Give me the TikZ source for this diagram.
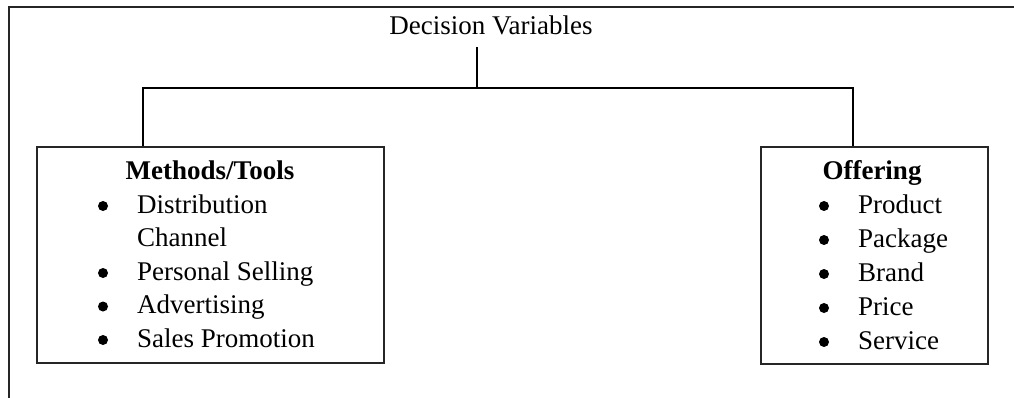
\documentclass[tikz,border=0pt]{standalone}
\usepackage{fontspec}
\setmainfont{Liberation Serif}
\begin{document}
\begin{tikzpicture}[x=1pt,y=-1pt,
  frame/.style={draw=black!85, line width=1.5pt},
  conn/.style={draw=black, line width=1.2pt},
  box/.style={draw=black!85, line width=1.6pt, rectangle, inner sep=0pt, anchor=north west},
  txt/.style={anchor=base west, inner sep=0pt, font=\fontsize{27}{32}\selectfont},
  head/.style={anchor=base, inner sep=0pt, font=\fontsize{27}{32}\selectfont\bfseries},
  bul/.style={circle, fill=black, inner sep=0pt, minimum size=10pt}]
\useasboundingbox (0,0) rectangle (1014,398);
% outer frame
\coordinate (f1) at (1014,7);
\coordinate (f2) at (9,7);
\coordinate (f3) at (9,398);
\draw[frame] (f1) -- (f2) -- (f3);
% title
\node[anchor=base, inner sep=0pt, font=\fontsize{27}{32}\selectfont] (title) at (491,35) {Decision Variables};
% boxes
\node[box, minimum width=347pt, minimum height=216pt] (lbox) at (36,146) {};
\node[box, minimum width=227pt, minimum height=217pt] (rbox) at (760,146) {};
% connectors
\coordinate (top) at (477,47);
\coordinate (jn) at (477,88);
\coordinate (hl) at (143,88);
\coordinate (hr) at (853,88);
\draw[conn] (top) -- (jn);
\draw[conn] (lbox.north west -| hl) -- (hl) -- (hr) -- (rbox.north west -| hr);
% left box content
\node[head] (lh) at (210,180) {Methods/Tools};
\node[bul] (lb1) at (103,206) {};
\node[txt] (lt1) at (137,213) {Distribution};
\node[txt] (lt1b) at (137,246.5) {Channel};
\node[bul] (lb2) at (103,273) {};
\node[txt] (lt2) at (137,280) {Personal Selling};
\node[bul] (lb3) at (103,306.5) {};
\node[txt] (lt3) at (137,313.5) {Advertising};
\node[bul] (lb4) at (103,340) {};
\node[txt] (lt4) at (137,347) {Sales Promotion};
% right box content
\node[head] (rh) at (872,180) {Offering};
\node[bul] (rb1) at (824,206) {};
\node[txt] (rt1) at (858,213) {Product};
\node[bul] (rb2) at (824,240) {};
\node[txt] (rt2) at (858,247) {Package};
\node[bul] (rb3) at (824,274) {};
\node[txt] (rt3) at (858,281) {Brand};
\node[bul] (rb4) at (824,308) {};
\node[txt] (rt4) at (858,315) {Price};
\node[bul] (rb5) at (824,342) {};
\node[txt] (rt5) at (858,349) {Service};
\end{tikzpicture}
\end{document}
